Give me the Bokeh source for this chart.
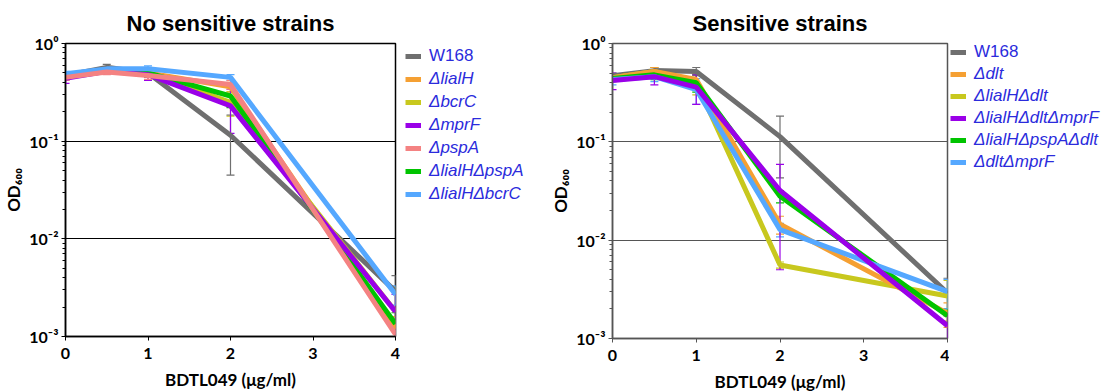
from bokeh.plotting import figure
from bokeh.layouts import row
from bokeh.models import (ColumnDataSource, Whisker, TeeHead, Legend, LegendItem,
                          FixedTicker, CustomJSTickFormatter, Range1d)
from bokeh.embed import file_html
from bokeh.resources import INLINE

# ---------------- data ----------------
doses = [0, 0.5, 1, 2, 4]
x_ticks = [0, 1, 2, 3, 4]

# Left panel: "No sensitive strains"
left_title = "No sensitive strains"
left_names = ["W168", "ΔlialH", "ΔbcrC", "ΔmprF", "ΔpspA", "ΔlialHΔpspA", "ΔlialHΔbcrC"]
left_w168 = [0.47, 0.57, 0.50, 0.115, 0.0029]
left_lialH = [0.45, 0.52, 0.50, 0.36, 0.0012]
left_bcrC = [0.46, 0.54, 0.50, 0.25, 0.0018]
left_mprF = [0.44, 0.52, 0.48, 0.23, 0.0018]
left_pspA = [0.45, 0.51, 0.47, 0.38, 0.00105]
left_lialH_pspA = [0.46, 0.53, 0.50, 0.29, 0.00135]
left_lialH_bcrC = [0.49, 0.55, 0.55, 0.45, 0.0027]

left_w168_err = [0.03, 0.04, 0.05, 0.07, 0.0013]
left_lialH_err = [0.03, 0.03, 0.04, 0.04, 0.0004]
left_bcrC_err = [0.03, 0.03, 0.04, 0.07, 0.0014]
left_mprF_err = [0.05, 0.03, 0.06, 0.11, 0.0009]
left_pspA_err = [0.03, 0.03, 0.04, 0.04, 0.0004]
left_lialH_pspA_err = [0.03, 0.03, 0.04, 0.07, 0.0004]
left_lialH_bcrC_err = [0.03, 0.03, 0.04, 0.03, 0.0006]

# Right panel: "Sensitive strains"
right_title = "Sensitive strains"
right_names = ["W168", "Δdlt", "ΔlialHΔdlt", "ΔlialHΔdltΔmprF", "ΔlialHΔpspAΔdlt", "ΔdltΔmprF"]
right_w168 = [0.47, 0.53, 0.52, 0.113, 0.0029]
right_dlt = [0.45, 0.52, 0.43, 0.0145, 0.0018]
right_lialH_dlt = [0.45, 0.52, 0.40, 0.0056, 0.0027]
right_lialH_dlt_mprF = [0.42, 0.46, 0.36, 0.032, 0.00135]
right_lialH_pspA_dlt = [0.44, 0.48, 0.40, 0.028, 0.0017]
right_dlt_mprF = [0.43, 0.46, 0.34, 0.0128, 0.0030]

right_w168_err = [0.03, 0.04, 0.05, 0.07, 0.0012]
right_dlt_err = [0.03, 0.05, 0.05, 0.003, 0.0005]
right_lialH_dlt_err = [0.03, 0.05, 0.10, 0.0004, 0.0012]
right_lialH_dlt_mprF_err = [0.08, 0.08, 0.12, 0.027, 0.0005]
right_lialH_pspA_dlt_err = [0.03, 0.05, 0.08, 0.004, 0.0003]
right_dlt_mprF_err = [0.05, 0.05, 0.10, 0.002, 0.0010]

# ---------------- styles ----------------
GRAY = "#6f6f6f"
ORANGE = "#f5a033"
OLIVE = "#c8c81e"
PURPLE = "#9a00e8"
SALMON = "#f48282"
GREEN = "#00c400"
BLUE = "#55a8ff"
LEGEND_BLUE = "#2b2bdc"

TICK_FONT = "Lato"
TITLE_FONT = "Liberation Sans"
FIG_H = 366


def make_fig(title, frame_w, frame_h, b_left, b_right, line_col, title_standoff):
    p = figure(title=title, x_axis_type="linear", y_axis_type="log",
               x_range=Range1d(0, 4), y_range=Range1d(0.001, 1),
               frame_width=frame_w, frame_height=frame_h,
               min_border_left=b_left, min_border_top=0,
               min_border_right=b_right, min_border_bottom=0,
               output_backend="svg", toolbar_location=None)
    p.title.align = "center"
    p.title.text_font = TITLE_FONT
    p.title.text_font_size = "22px"
    p.title.text_font_style = "bold"
    p.title.text_color = "black"
    p.title.standoff = title_standoff
    p.background_fill_color = "white"
    p.border_fill_color = "white"
    p.outline_line_color = line_col
    p.outline_line_width = 1.5

    p.xgrid.visible = False
    p.ygrid.ticker = FixedTicker(ticks=[0.1, 0.01])
    p.ygrid.grid_line_color = line_col
    p.ygrid.grid_line_width = 1

    p.xaxis.ticker = FixedTicker(ticks=x_ticks)
    p.xaxis.minor_tick_line_color = None
    p.xaxis.axis_label = "BDTL049 (μg/ml)"
    p.yaxis.axis_label = "OD₆₀₀"
    p.yaxis.formatter = CustomJSTickFormatter(code="""
        const e = Math.round(Math.log10(tick));
        const sup = {'0':'\u2070','1':'\u00b9','2':'\u00b2','3':'\u00b3','-':'\u207b'};
        return '10' + String(e).split('').map(c => sup[c]).join('');
    """)
    for ax in (p.xaxis, p.yaxis):
        ax.axis_line_color = line_col
        ax.axis_line_width = 1.5
        ax.major_tick_line_color = line_col
        ax.major_tick_out = 4
        ax.major_tick_in = 0
        ax.minor_tick_out = 3
        ax.minor_tick_in = 0
        ax.major_label_text_font = TICK_FONT
        ax.major_label_text_font_style = "bold"
        ax.major_label_text_font_size = "16px"
        ax.major_label_text_color = "black"
        ax.axis_label_text_font = TICK_FONT
        ax.axis_label_text_font_style = "bold"
        ax.axis_label_text_font_size = "17px"
        ax.axis_label_text_color = "black"
    p.xaxis.major_label_standoff = 7
    p.xaxis.axis_label_standoff = 7
    p.yaxis.major_label_standoff = 3
    p.yaxis.axis_label_standoff = 2
    p.yaxis.minor_tick_line_color = line_col
    return p


def add_series(p, values, errs, color):
    src = ColumnDataSource(dict(x=doses, y=values,
                                lower=[v - e for v, e in zip(values, errs)],
                                upper=[v + e for v, e in zip(values, errs)]))
    r = p.line("x", "y", source=src, line_color=color, line_width=5)
    w = Whisker(source=src, base="x", lower="lower", upper="upper", dimension="height",
                line_color=color, line_width=1.2,
                upper_head=TeeHead(size=8, line_color=color, line_width=1.2),
                lower_head=TeeHead(size=8, line_color=color, line_width=1.2))
    p.add_layout(w)
    return r


def legend_fig(names, colors, width, x, y_first_bottom, y_rest_bottom, spacing):
    lf = figure(width=width, height=FIG_H, title=None,
                x_range=Range1d(0, 1), y_range=Range1d(0, 1),
                x_axis_location=None, y_axis_location=None,
                min_border=0, outline_line_color=None,
                output_backend="svg", toolbar_location=None)
    lf.grid.visible = False
    lf.background_fill_color = "white"
    lf.border_fill_color = "white"
    # legend-only proxies (kept outside the visible range)
    rs = [lf.line(x=[-5, -4], y=[-5, -5], line_color=c, line_width=5) for c in colors]
    common = dict(orientation="vertical", label_text_font="Liberation Sans",
                  label_text_font_size="17px", label_text_color=LEGEND_BLUE,
                  glyph_width=16, glyph_height=20, label_height=20,
                  label_standoff=8, spacing=spacing, padding=0, margin=0,
                  border_line_color=None, background_fill_alpha=0)
    lg1 = Legend(items=[LegendItem(label=names[0], renderers=[rs[0]])],
                 location=(x, y_first_bottom), label_text_font_style="normal", **common)
    lg2 = Legend(items=[LegendItem(label=n, renderers=[r]) for n, r in zip(names[1:], rs[1:])],
                 location=(x, y_rest_bottom), label_text_font_style="italic", **common)
    lf.add_layout(lg1, "center")
    lf.add_layout(lg2, "center")
    return lf


# ---------------- left figure ----------------
p1 = make_fig(left_title, 330, 293, 57, 5, "black", 16)
left_vals = [left_w168, left_lialH, left_bcrC, left_mprF, left_pspA, left_lialH_pspA, left_lialH_bcrC]
left_errs = [left_w168_err, left_lialH_err, left_bcrC_err, left_mprF_err, left_pspA_err,
             left_lialH_pspA_err, left_lialH_bcrC_err]
left_cols = [GRAY, ORANGE, OLIVE, PURPLE, SALMON, GREEN, BLUE]
left_order = [0, 1, 2, 5, 3, 6, 4]
for i in left_order:
    add_series(p1, left_vals[i], left_errs[i], left_cols[i])
leg1 = legend_fig(left_names, left_cols, 147, 5, 244, 106, 3)

# ---------------- right figure ----------------
p2 = make_fig(right_title, 335, 295, 57, 2, "#555555", 16)
right_vals = [right_w168, right_dlt, right_lialH_dlt, right_lialH_dlt_mprF,
              right_lialH_pspA_dlt, right_dlt_mprF]
right_errs = [right_w168_err, right_dlt_err, right_lialH_dlt_err, right_lialH_dlt_mprF_err,
              right_lialH_pspA_dlt_err, right_dlt_mprF_err]
right_cols = [GRAY, ORANGE, OLIVE, PURPLE, GREEN, BLUE]
right_order = [0, 2, 1, 4, 5, 3]
for i in right_order:
    add_series(p2, right_vals[i], right_errs[i], right_cols[i])
leg2 = legend_fig(right_names, right_cols, 158, 1, 248, 138, 2)

layout = row(p1, leg1, p2, leg2)
open("out.html", "w").write(file_html(layout, INLINE))
